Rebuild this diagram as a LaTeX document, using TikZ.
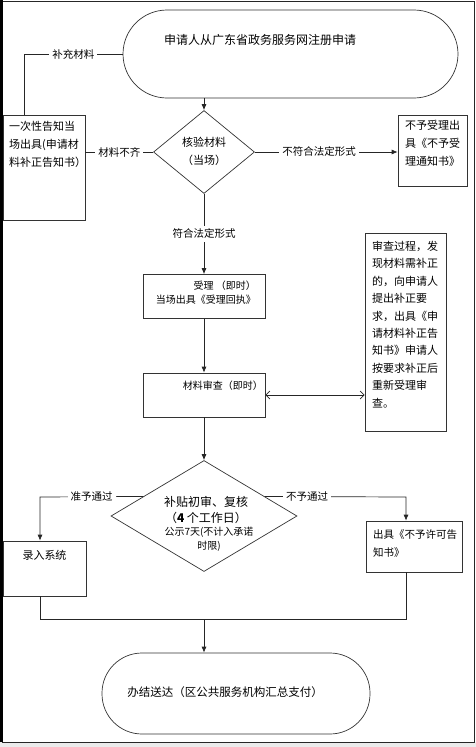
\documentclass[tikz,border=0pt]{standalone}
\usepackage{fontspec}
\setmainfont{Noto Sans CJK SC}
\usetikzlibrary{shapes.geometric,arrows.meta,calc}

\begin{document}
\begin{tikzpicture}[x=1pt,y=-1pt,
    kuang/.style={draw=black!80,line width=0.7pt,inner sep=0pt},
    lingxing/.style={diamond,draw=black!80,line width=0.7pt,inner sep=0pt},
    tuoyuan/.style={draw=black!80,line width=0.7pt,inner sep=0pt},
    wenzi/.style={inner sep=0pt,font=\fontsize{11}{18}\selectfont},
    biao/.style={fill=white,inner sep=3pt,font=\fontsize{10.5}{12}\selectfont},
    xian/.style={line width=0.7pt,draw=black!85},
    jian/.style={xian,-{Latex[length=6pt,width=5pt]}}]

    \useasboundingbox (0,0) rectangle (476,747);
    % 外框
    \fill[black!8] (0,742) rectangle (476,747);
    \draw[black!85,line width=0.8pt] (1.5,1) -- (474,1) -- (474,742) -- (1.5,742);
    \draw[line width=3pt] (1.5,0) -- (1.5,742);

    % 申请与核验
    \node[tuoyuan,rounded corners=44pt,minimum width=335pt,minimum height=88pt] (mulai) at (290.5,54) {};
    \node[wenzi,font=\fontsize{12}{14}\selectfont] (tmulai) at (260,40) {申请人从广东省政务服务网注册申请};
    \node[kuang,minimum width=82pt,minimum height=105pt] (buqi) at (44,167.5) {};
    \node[wenzi,anchor=north west,align=left] (tbuqi) at (9,121) {一次性告知当\\场出具(申请材\\料补正告知书）};
    \node[lingxing,minimum width=101pt,minimum height=83pt] (hy) at (204,152) {};
    \node[wenzi,align=center] (thy) at (204,151) {核验材料\\（当场）};
    \node[kuang,minimum width=69pt,minimum height=71pt] (bsl) at (432.5,150.5) {};
    \node[wenzi,anchor=north west,align=left] (tbsl) at (405,120) {不予受理出\\具《不予受\\理通知书》};

    % 受理与审查
    \node[kuang,minimum width=122pt,minimum height=44pt] (sl) at (204,296.5) {};
    \node[wenzi,anchor=north east,align=right,font=\fontsize{10}{14}\selectfont] (tsl) at (256,281) {受理 （即时）\\当场出具《受理回执》};
    \node[kuang,minimum width=122pt,minimum height=44pt] (sc) at (204,395) {};
    \node[wenzi,anchor=north east,font=\fontsize{10}{14}\selectfont] (tsc) at (263,381) {材料审查（即时）};
    \node[kuang,minimum width=81pt,minimum height=198pt] (bz) at (405.5,332) {};
    \node[wenzi,anchor=north west,align=left,font=\fontsize{11}{17.4}\selectfont] (tbz) at (372,241)
      {审查过程，发\\现材料需补正\\的，向申请人\\提出补正要\\求，出具《申\\请材料补正告\\知书》申请人\\按要求补正后\\重新受理审\\查。};

    % 初审复核
    \node[lingxing,minimum width=186pt,minimum height=111pt] (fh) at (204,516) {};
    \node[wenzi,align=center,font=\fontsize{12}{16}\selectfont] (tfh) at (206,510) {补贴初审、复核\\（\textbf{4} 个工作日）};
    \node[wenzi,align=center,font=\fontsize{10}{14}\selectfont] (tgs) at (209,539) {公示7天(不计入承诺\\时限)};
    \node[kuang,minimum width=83pt,minimum height=55pt] (lr) at (44.5,568.5) {};
    \node[wenzi,anchor=north] (tlr) at (44.5,550) {录入系统};
    \node[kuang,minimum width=96pt,minimum height=51pt] (bxk) at (414,546.5) {};
    \node[wenzi,anchor=north west,align=left,font=\fontsize{10.5}{18}\selectfont] (tbxk) at (373,529) {出具《不予许可告\\知书》};
    \node[tuoyuan,rounded corners=40pt,minimum width=268pt,minimum height=81pt] (selesai) at (236,693.5) {};
    \node[wenzi,font=\fontsize{11.5}{14}\selectfont] (tselesai) at (225,692) {办结送达（区公共服务机构汇总支付）};

    \coordinate (kiri) at (24,54);
    \coordinate (ki) at (40,497);
    \coordinate (ka) at (406,497);
    \coordinate (gab) at (204,619);

    % 连线
    \draw[jian] (mulai.south -| hy.north) -- (hy.north);
    \draw[xian] (mulai.west) -- node[biao] (lbc) {补充材料} (kiri) -- (kiri |- buqi.north);
    \draw[xian] (hy.west) -- node[biao] (lbq) {材料不齐} (hy.west -| buqi.east);
    \draw[jian] (hy.east) -- node[biao,pos=0.45] (lbf) {不符合法定形式} (hy.east -| bsl.west);
    \draw[jian] (hy.south) -- node[biao] (lfh) {符合法定形式} (sl.north);
    \draw[jian] (sl.south) -- (sc.north);
    \draw[xian,{Straight Barb[length=4pt]}-{Straight Barb[length=4pt]}] (sc.east) -- (sc.east -| bz.west);
    \draw[jian] (sc.south) -- (fh.north);
    \draw[jian] ($(fh.west)!0.35!(fh.north)$) -- node[biao] (lzy) {准予通过} (ki) -- (ki |- lr.north);
    \draw[jian] ($(fh.east)!0.35!(fh.north)$) -- node[biao,pos=0.3] (lby) {不予通过} (ka) -- (ka |- bxk.north);
    \draw[xian] (lr.south -| ki) -- (ki |- gab) -- (ka |- gab) -- (bxk.south -| ka);
    \draw[jian] (gab) -- (gab |- selesai.north);
  \end{tikzpicture}
\end{document}
